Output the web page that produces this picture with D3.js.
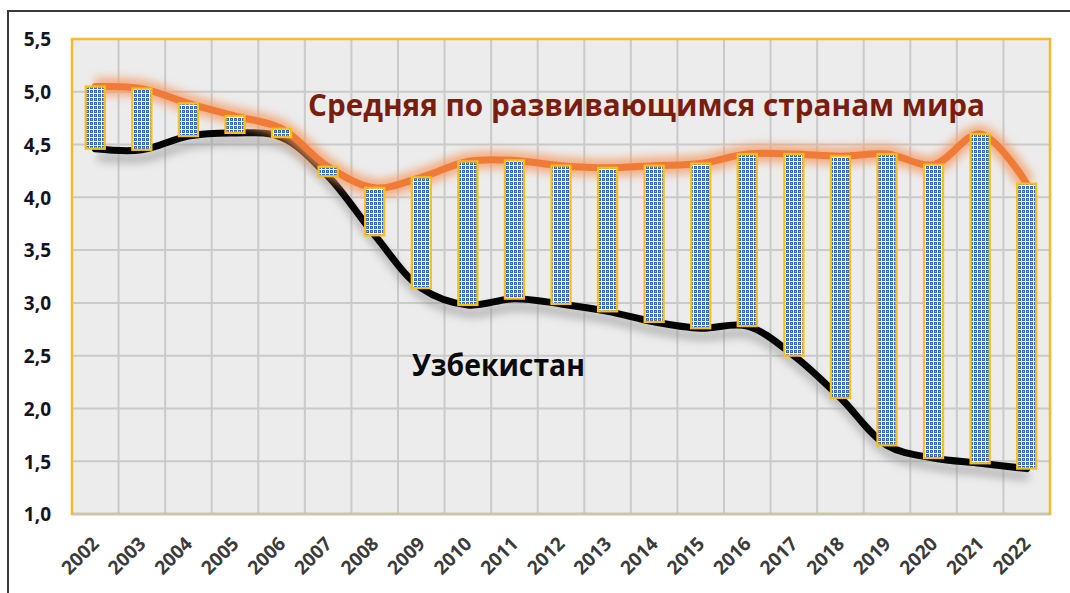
<!DOCTYPE html>
<html>
<head>
<meta charset="utf-8">
<script src="https://cdn.jsdelivr.net/npm/d3@7"></script>
<style>
  html, body { margin: 0; padding: 0; background: #ffffff; }
  svg { display: block; }
</style>
</head>
<body>
<svg id="chart" width="1070" height="593"></svg>
<script>
// Years on the horizontal axis
const years = ["2002", "2003", "2004", "2005", "2006", "2007", "2008", "2009", "2010", "2011",
               "2012", "2013", "2014", "2015", "2016", "2017", "2018", "2019", "2020", "2021", "2022"];

// Average over developing countries (upper, orange line)
const developing = [5.05, 5.03, 4.89, 4.77, 4.65, 4.29, 4.09, 4.19, 4.34, 4.35,
                    4.30, 4.28, 4.30, 4.32, 4.41, 4.41, 4.39, 4.41, 4.31, 4.60, 4.13];

// Uzbekistan (lower, black line)
const uzbekistan = [4.46, 4.45, 4.58, 4.61, 4.57, 4.20, 3.64, 3.14, 2.98, 3.04,
                    2.99, 2.92, 2.82, 2.76, 2.78, 2.50, 2.10, 1.65, 1.53, 1.48, 1.43];

// Value axis ticks
const yTicks = [1.0, 1.5, 2.0, 2.5, 3.0, 3.5, 4.0, 4.5, 5.0, 5.5];

// Series captions drawn inside the plot
const captionDeveloping = "Средняя по развивающимся странам мира";
const captionUzbekistan = "Узбекистан";

const plot = { left: 72, right: 1050, top: 39, bottom: 514 };
const svg = d3.select("#chart");
const defs = svg.append("defs");

// Blue/white woven fill of the range bars
const pat = defs.append("pattern")
  .attr("id", "weave").attr("patternUnits", "userSpaceOnUse")
  .attr("width", 4).attr("height", 4);
pat.append("rect").attr("width", 4).attr("height", 4).attr("fill", "#2f66c8");
pat.append("rect").attr("x", 0).attr("y", 1).attr("width", 4).attr("height", 1).attr("fill", "#ffffff");
pat.append("rect").attr("x", 1).attr("y", 0).attr("width", 1).attr("height", 4).attr("fill", "#ffffff");
pat.append("rect").attr("x", 3).attr("y", 3).attr("width", 1).attr("height", 1).attr("fill", "#9db6e6");

// Soft halo for the orange line
defs.append("filter").attr("id", "halo")
  .attr("filterUnits", "userSpaceOnUse").attr("x", 0).attr("y", 0).attr("width", 1070).attr("height", 593)
  .append("feGaussianBlur").attr("stdDeviation", 4);

// Drop shadow for the black line
defs.append("filter").attr("id", "shade")
  .attr("filterUnits", "userSpaceOnUse").attr("x", 0).attr("y", 0).attr("width", 1070).attr("height", 593)
  .append("feGaussianBlur").attr("stdDeviation", 4);

// Outer frame
svg.append("rect")
  .attr("x", 8).attr("y", 11).attr("width", 1100).attr("height", 700)
  .attr("fill", "#ffffff").attr("stroke", "#3a3a3a").attr("stroke-width", 2);

const x = d3.scaleBand().domain(years).range([plot.left, plot.right]).padding(0);
const y = d3.scaleLinear().domain([1.0, 5.5]).range([plot.bottom, plot.top]);
const cx = d => x(d) + x.bandwidth() / 2;

// Plot background
svg.append("rect")
  .attr("x", plot.left).attr("y", plot.top)
  .attr("width", plot.right - plot.left).attr("height", plot.bottom - plot.top)
  .attr("fill", "#ececec");

// Grid
const grid = svg.append("g").attr("stroke", "#cacaca").attr("stroke-width", 2);
grid.selectAll("line.h").data(yTicks.slice(1, -1)).join("line")
  .attr("x1", plot.left).attr("x2", plot.right)
  .attr("y1", d => y(d)).attr("y2", d => y(d));
grid.selectAll("line.v").data(years.slice(1)).join("line")
  .attr("x1", d => x(d)).attr("x2", d => x(d))
  .attr("y1", plot.top).attr("y2", plot.bottom);

// Plot border (orange) and horizontal axis line (grey)
svg.append("rect")
  .attr("x", plot.left).attr("y", plot.top)
  .attr("width", plot.right - plot.left).attr("height", plot.bottom - plot.top)
  .attr("fill", "none").attr("stroke", "#fbb829").attr("stroke-width", 2.5);
svg.append("line")
  .attr("x1", plot.left + 1).attr("x2", plot.right - 1)
  .attr("y1", plot.bottom).attr("y2", plot.bottom)
  .attr("stroke", "#c4c4c4").attr("stroke-width", 2.5);

// Y axis labels
const fmt = d3.formatLocale({ decimal: ",", thousands: " ", grouping: [3], currency: ["", ""] }).format(".1f");
const yAxis = d3.axisLeft(y).tickValues(yTicks).tickFormat(fmt).tickSize(0).tickPadding(0);
const gy = svg.append("g").attr("transform", "translate(51,0)").call(yAxis);
gy.select(".domain").remove();
gy.selectAll("text")
  .attr("font-family", "'Open Sans', 'DejaVu Sans', sans-serif")
  .attr("font-weight", 700).attr("font-size", 19).attr("fill", "#141420")
  .attr("dy", "0.36em");

// X axis labels, rotated
const xAxis = d3.axisBottom(x).tickSize(0).tickPadding(0);
const gx = svg.append("g").call(xAxis);
gx.select(".domain").remove();
gx.selectAll(".tick").attr("transform", d => `translate(${cx(d) + 5},545)`);
gx.selectAll("text")
  .attr("y", 0).attr("dy", 0).attr("x", 0)
  .attr("transform", "rotate(-45)")
  .attr("text-anchor", "end")
  .attr("font-family", "'Open Sans', 'DejaVu Sans', sans-serif")
  .attr("font-weight", 700).attr("font-size", 19).attr("fill", "#3b3b3b");

// Lines
const line = d3.line().x((d, i) => cx(years[i])).y(d => y(d)).curve(d3.curveCatmullRom.alpha(0.5));

// Black line shadow
svg.append("path").datum(uzbekistan)
  .attr("d", line).attr("transform", "translate(2,8)")
  .attr("fill", "none").attr("stroke", "#8a8a8a").attr("stroke-width", 9)
  .attr("stroke-opacity", 0.55).attr("filter", "url(#shade)");
svg.append("path").datum(uzbekistan)
  .attr("d", line)
  .attr("fill", "none").attr("stroke", "#050505").attr("stroke-width", 7)
  .attr("stroke-linecap", "round").attr("stroke-linejoin", "round");

// Orange line with halo
svg.append("path").datum(developing)
  .attr("d", line)
  .attr("fill", "none").attr("stroke", "#f49a62").attr("stroke-width", 18)
  .attr("stroke-opacity", 0.75).attr("filter", "url(#halo)");
svg.append("path").datum(developing)
  .attr("d", line)
  .attr("fill", "none").attr("stroke", "#ef7b37").attr("stroke-width", 7)
  .attr("stroke-linecap", "round").attr("stroke-linejoin", "round");

// Range bars between the two series
const barW = x.bandwidth() * 0.41;
svg.append("g").selectAll("rect")
  .data(years.map((yr, i) => ({ yr, hi: Math.max(developing[i], uzbekistan[i]), lo: Math.min(developing[i], uzbekistan[i]) })))
  .join("rect")
  .attr("x", d => cx(d.yr) - barW / 2)
  .attr("width", barW)
  .attr("y", d => y(d.hi))
  .attr("height", d => y(d.lo) - y(d.hi))
  .attr("fill", "url(#weave)")
  .attr("stroke", "#fdbf10").attr("stroke-width", 2.2);

// Series captions
svg.append("text")
  .attr("x", 308).attr("y", 116)
  .attr("font-family", "'Open Sans', 'DejaVu Sans', sans-serif")
  .attr("font-weight", 700).attr("font-size", 30)
  .attr("fill", "#7a1d0e")
  .attr("textLength", 677).attr("lengthAdjust", "spacingAndGlyphs")
  .text(captionDeveloping);

svg.append("text")
  .attr("x", 412).attr("y", 376)
  .attr("font-family", "'Open Sans', 'DejaVu Sans', sans-serif")
  .attr("font-weight", 700).attr("font-size", 30)
  .attr("fill", "#0a0a0a")
  .attr("textLength", 173).attr("lengthAdjust", "spacingAndGlyphs")
  .text(captionUzbekistan);
</script>
</body>
</html>
